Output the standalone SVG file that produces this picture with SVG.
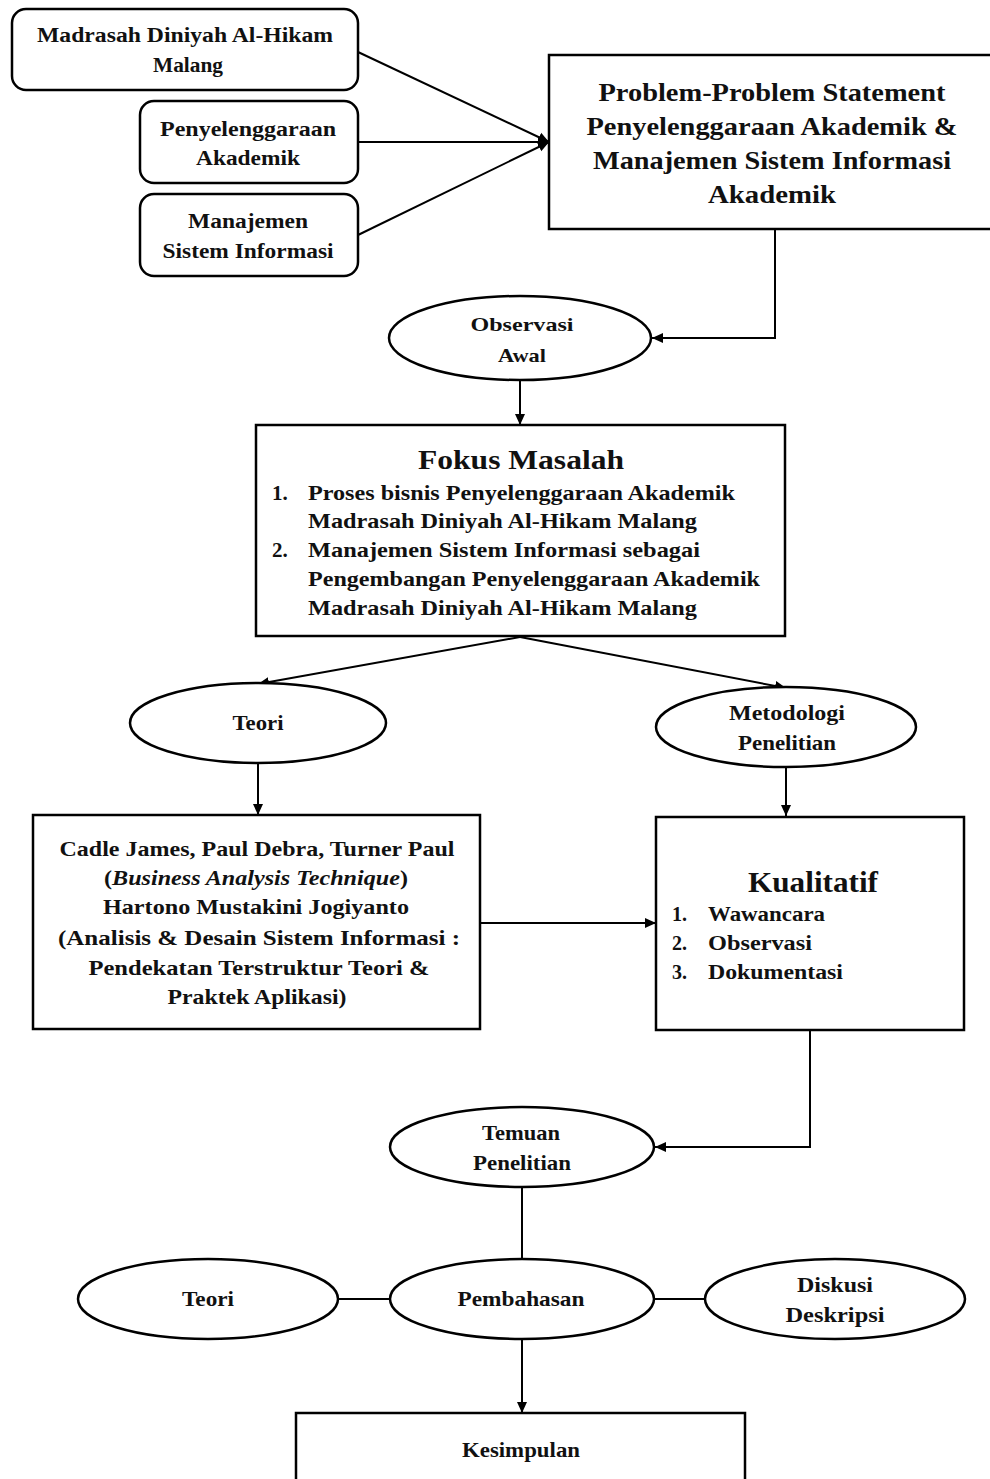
<svg xmlns="http://www.w3.org/2000/svg" width="990" height="1479" viewBox="0 0 990 1479">
<style>
.box{fill:#fff;stroke:#000;stroke-width:2.5}
.ell{fill:#fff;stroke:#000;stroke-width:2.5}
.t{font-family:"Liberation Serif","Times New Roman",serif;font-weight:bold;fill:#111;text-anchor:middle}
.l{font-family:"Liberation Serif","Times New Roman",serif;font-weight:bold;fill:#111}
.c{fill:none;stroke:#000;stroke-width:2}
</style>
<defs>
<marker id="ah" markerUnits="userSpaceOnUse" markerWidth="12" markerHeight="12" refX="11" refY="6" orient="auto">
<path d="M0,1 L11,6 L0,11 z" fill="#000"/>
</marker>
</defs>
<rect width="990" height="1479" fill="#fff"/>
<g id="connectors">
<line class="c" x1="358" y1="52" x2="549" y2="142" marker-end="url(#ah)"/>
<line class="c" x1="358" y1="142" x2="549" y2="142" marker-end="url(#ah)"/>
<line class="c" x1="358" y1="235" x2="549" y2="142" marker-end="url(#ah)"/>
<polyline class="c" points="775,229 775,338 652,338" marker-end="url(#ah)"/>
<line class="c" x1="520" y1="380" x2="520" y2="425" marker-end="url(#ah)"/>
<line class="c" x1="520" y1="637" x2="258" y2="684" marker-end="url(#ah)"/>
<line class="c" x1="520" y1="637" x2="786" y2="688" marker-end="url(#ah)"/>
<line class="c" x1="258" y1="763" x2="258" y2="815" marker-end="url(#ah)"/>
<line class="c" x1="786" y1="767" x2="786" y2="816" marker-end="url(#ah)"/>
<line class="c" x1="480" y1="923" x2="656" y2="923" marker-end="url(#ah)"/>
<polyline class="c" points="810,1030 810,1147 655,1147" marker-end="url(#ah)"/>
<line class="c" x1="522" y1="1187" x2="522" y2="1259"/>
<line class="c" x1="338" y1="1299" x2="390" y2="1299"/>
<line class="c" x1="654" y1="1299" x2="705" y2="1299"/>
<line class="c" x1="522" y1="1339" x2="522" y2="1413" marker-end="url(#ah)"/>
</g>
<g id="madrasah">
<rect class="box" x="12" y="9" width="346" height="81" rx="14"/>
<text class="t" x="185" y="42" font-size="20" textLength="296" lengthAdjust="spacingAndGlyphs">Madrasah Diniyah Al-Hikam</text>
<text class="t" x="188" y="72" font-size="20" textLength="70" lengthAdjust="spacingAndGlyphs">Malang</text>
</g>
<g id="penyelenggaraan">
<rect class="box" x="140" y="101" width="218" height="82" rx="14"/>
<text class="t" x="248" y="136" font-size="20" textLength="176" lengthAdjust="spacingAndGlyphs">Penyelenggaraan</text>
<text class="t" x="248" y="165" font-size="20" textLength="104" lengthAdjust="spacingAndGlyphs">Akademik</text>
</g>
<g id="manajemen">
<rect class="box" x="140" y="194" width="218" height="82" rx="14"/>
<text class="t" x="248" y="228" font-size="20" textLength="120" lengthAdjust="spacingAndGlyphs">Manajemen</text>
<text class="t" x="248" y="258" font-size="20" textLength="171" lengthAdjust="spacingAndGlyphs">Sistem Informasi</text>
</g>
<g id="problem">
<rect class="box" x="549" y="55" width="445" height="174"/>
<text class="t" x="772" y="101" font-size="25" textLength="347" lengthAdjust="spacingAndGlyphs">Problem-Problem Statement</text>
<text class="t" x="772" y="135" font-size="25" textLength="371" lengthAdjust="spacingAndGlyphs">Penyelenggaraan Akademik &amp;</text>
<text class="t" x="772" y="169" font-size="25" textLength="358" lengthAdjust="spacingAndGlyphs">Manajemen Sistem Informasi</text>
<text class="t" x="772" y="203" font-size="25" textLength="128" lengthAdjust="spacingAndGlyphs">Akademik</text>
</g>
<g id="observasi">
<ellipse class="ell" cx="520" cy="338" rx="131" ry="42"/>
<text class="t" x="522" y="331" font-size="19" textLength="103" lengthAdjust="spacingAndGlyphs">Observasi</text>
<text class="t" x="522" y="362" font-size="19" textLength="48" lengthAdjust="spacingAndGlyphs">Awal</text>
</g>
<g id="fokus">
<rect class="box" x="256" y="425" width="529" height="211"/>
<text class="t" x="521" y="469" font-size="27" textLength="206" lengthAdjust="spacingAndGlyphs">Fokus Masalah</text>
<text class="l" x="272" y="500" font-size="21">1.</text>
<text class="l" x="308" y="500" font-size="21" textLength="427" lengthAdjust="spacingAndGlyphs">Proses bisnis Penyelenggaraan  Akademik</text>
<text class="l" x="308" y="528" font-size="21" textLength="389" lengthAdjust="spacingAndGlyphs">Madrasah Diniyah Al-Hikam  Malang</text>
<text class="l" x="272" y="557" font-size="21">2.</text>
<text class="l" x="308" y="557" font-size="21" textLength="392" lengthAdjust="spacingAndGlyphs">Manajemen  Sistem Informasi  sebagai</text>
<text class="l" x="308" y="586" font-size="21" textLength="452" lengthAdjust="spacingAndGlyphs">Pengembangan  Penyelenggaraan Akademik</text>
<text class="l" x="308" y="615" font-size="21" textLength="389" lengthAdjust="spacingAndGlyphs">Madrasah Diniyah Al-Hikam  Malang</text>
</g>
<g id="teori1">
<ellipse class="ell" cx="258" cy="723" rx="128" ry="40"/>
<text class="t" x="258" y="730" font-size="21" textLength="51" lengthAdjust="spacingAndGlyphs">Teori</text>
</g>
<g id="metodologi">
<ellipse class="ell" cx="786" cy="727" rx="130" ry="40"/>
<text class="t" x="787" y="720" font-size="21" textLength="116" lengthAdjust="spacingAndGlyphs">Metodologi</text>
<text class="t" x="787" y="750" font-size="21" textLength="98" lengthAdjust="spacingAndGlyphs">Penelitian</text>
</g>
<g id="referensi">
<rect class="box" x="33" y="815" width="447" height="214"/>
<text class="t" x="257" y="856" font-size="22" textLength="395" lengthAdjust="spacingAndGlyphs">Cadle James, Paul Debra, Turner  Paul</text>
<text class="t" x="256" y="885" font-size="22" textLength="304" lengthAdjust="spacingAndGlyphs">(<tspan font-style="italic">Business Analysis Technique</tspan>)</text>
<text class="t" x="256" y="914" font-size="22" textLength="306" lengthAdjust="spacingAndGlyphs">Hartono  Mustakini Jogiyanto</text>
<text class="t" x="259" y="945" font-size="22" textLength="402" lengthAdjust="spacingAndGlyphs">(Analisis &amp; Desain Sistem Informasi  :</text>
<text class="t" x="259" y="975" font-size="22" textLength="341" lengthAdjust="spacingAndGlyphs">Pendekatan  Terstruktur  Teori &amp;</text>
<text class="t" x="257" y="1004" font-size="22" textLength="179" lengthAdjust="spacingAndGlyphs">Praktek Aplikasi)</text>
</g>
<g id="kualitatif">
<rect class="box" x="656" y="817" width="308" height="213"/>
<text class="t" x="813" y="892" font-size="30" textLength="130" lengthAdjust="spacingAndGlyphs">Kualitatif</text>
<text class="l" x="672" y="921" font-size="20">1.</text>
<text class="l" x="708" y="921" font-size="20" textLength="117" lengthAdjust="spacingAndGlyphs">Wawancara</text>
<text class="l" x="672" y="950" font-size="20">2.</text>
<text class="l" x="708" y="950" font-size="20" textLength="104" lengthAdjust="spacingAndGlyphs">Observasi</text>
<text class="l" x="672" y="979" font-size="20">3.</text>
<text class="l" x="708" y="979" font-size="20" textLength="135" lengthAdjust="spacingAndGlyphs">Dokumentasi</text>
</g>
<g id="temuan">
<ellipse class="ell" cx="522" cy="1147" rx="132" ry="40"/>
<text class="t" x="521" y="1140" font-size="21" textLength="78" lengthAdjust="spacingAndGlyphs">Temuan</text>
<text class="t" x="522" y="1170" font-size="21" textLength="98" lengthAdjust="spacingAndGlyphs">Penelitian</text>
</g>
<g id="pembahasan">
<ellipse class="ell" cx="522" cy="1299" rx="132" ry="40"/>
<text class="t" x="521" y="1306" font-size="21" textLength="127" lengthAdjust="spacingAndGlyphs">Pembahasan</text>
</g>
<g id="teori2">
<ellipse class="ell" cx="208" cy="1299" rx="130" ry="40"/>
<text class="t" x="208" y="1306" font-size="21" textLength="52" lengthAdjust="spacingAndGlyphs">Teori</text>
</g>
<g id="diskusi">
<ellipse class="ell" cx="835" cy="1299" rx="130" ry="40"/>
<text class="t" x="835" y="1292" font-size="21" textLength="76" lengthAdjust="spacingAndGlyphs">Diskusi</text>
<text class="t" x="835" y="1322" font-size="21" textLength="99" lengthAdjust="spacingAndGlyphs">Deskripsi</text>
</g>
<g id="kesimpulan">
<rect class="box" x="296" y="1413" width="449" height="80"/>
<text class="t" x="521" y="1457" font-size="21" textLength="118" lengthAdjust="spacingAndGlyphs">Kesimpulan</text>
</g>
</svg>
